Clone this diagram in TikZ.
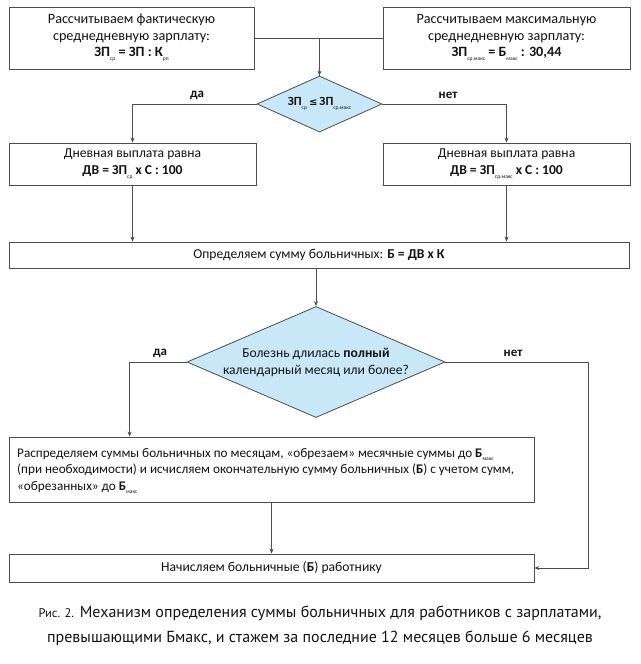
\documentclass[tikz,border=0pt]{standalone}
\usepackage{fontspec}
\setmainfont{Carlito}
\newfontfamily\capfont{PT Sans}
\newfontfamily\symfont{DejaVu Sans}
\usetikzlibrary{shapes.geometric,arrows.meta}
\newcommand\lo[1]{\raisebox{-0.6ex}{\fontsize{5.5}{6}\selectfont\mdseries #1}}
\definecolor{ln}{HTML}{4D4D4D}
\definecolor{dfill}{HTML}{C9E8F7}
\definecolor{tx}{HTML}{141414}
\begin{document}
\begin{tikzpicture}[x=1pt,y=-1pt,
  box/.style={draw=ln, line width=0.8pt, fill=white, rectangle, inner sep=0pt, text=tx, font=\fontsize{13.6}{16.5}\selectfont, align=center},
  dia/.style={draw=ln, line width=0.8pt, fill=dfill, diamond, inner sep=0pt},
  conn/.style={draw=ln, line width=0.8pt, -{Stealth[length=5pt,width=4pt]}},
  plainline/.style={draw=ln, line width=0.8pt},
  lbl/.style={font=\bfseries\fontsize{13}{15}\selectfont, text=tx, inner sep=0pt},
  dtext/.style={font=\fontsize{13.6}{17}\selectfont, text=tx, inner sep=0pt, align=center}]
\useasboundingbox (0,0) rectangle (640,664);

% top boxes
\node[box, font=\fontsize{14.2}{16.5}\selectfont, minimum width=245pt, minimum height=62pt] (b1) at (131.5,38)
  {Рассчитываем фактическую\\среднедневную зарплату:\\\textbf{ЗП\lo{ср} = ЗП : К\lo{рп}}};
\node[box, font=\fontsize{14.2}{16.5}\selectfont, minimum width=247pt, minimum height=62pt] (b2) at (506.5,38)
  {Рассчитываем максимальную\\среднедневную зарплату:\\\textbf{ЗП\lo{ср.макс} = Б\lo{макс} : 30,44}};

% diamond 1
\node[dia, minimum width=125pt, minimum height=56pt] (d1) at (319.5,104) {};
\node[lbl, font=\bfseries\fontsize{12.5}{15}\selectfont] (t1) at (d1.center) {ЗП\lo{ср}\,{\symfont\fontsize{10}{12}\selectfont ≤}\,ЗП\lo{ср.макс}};

% second row
\node[box, minimum width=247pt, minimum height=42pt] (b3) at (132.5,164)
  {Дневная выплата равна\\\textbf{ДВ = ЗП\lo{ср} х С : 100}};
\node[box, minimum width=247pt, minimum height=42pt] (b4) at (506.5,164)
  {Дневная выплата равна\\\textbf{ДВ = ЗП\lo{ср.макс} х С : 100}};

% wide box
\node[box, minimum width=620pt, minimum height=26pt] (b5) at (319,255)
  {Определяем сумму больничных: \textbf{Б = ДВ х К}};

% diamond 2
\node[dia, minimum width=258pt, minimum height=111pt] (d2) at (316,362) {};
\node[dtext] (t2) at (d2.center) {Болезнь длилась \textbf{полный}\\календарный месяц или более?};

% lower boxes
\node[box, minimum width=525pt, minimum height=65pt] (b6) at (271.5,469.5) {};
\node[dtext, font=\fontsize{13.2}{16.5}\selectfont, align=left, anchor=west] (t6) at (17,471)
  {Распределяем суммы больничных по месяцам, «обрезаем» месячные суммы до \textbf{Б\lo{макс}}\\(при необходимости) и исчисляем окончательную сумму больничных (\textbf{Б}) с учетом сумм,\\«обрезанных» до \textbf{Б\lo{макс}}};
\node[box, minimum width=525pt, minimum height=28pt] (b7) at (271.5,568)
  {Начисляем больничные (\textbf{Б}) работнику};

% connectors
\draw[conn] (b1.east) -| (d1.north);
\draw[plainline] (b2.west) -| (d1.north);
\draw[conn] (d1.west) -| (b3.north);
\draw[conn] (d1.east) -| (b4.north);
\draw[conn] (b3.south) -- (b3.south |- b5.north);
\draw[conn] (b4.south) -- (b4.south |- b5.north);
\draw[conn] (d2.north |- b5.south) -- (d2.north);
\draw[conn] (d2.west) -| ([xshift=121pt]b6.north west);
\draw[conn] (d2.east) -- ++(143,0) coordinate (r2) |- (b7.east);
\draw[conn] (b6.south) -- (b6.south |- b7.north);

% labels
\node[lbl] (l1) at (197,95) {да};
\node[lbl] (l2) at (448,95) {нет};
\node[lbl] (l3) at (160,353) {да};
\node[lbl] (l4) at (513,353) {нет};

% caption
\node[font=\capfont\fontsize{16}{25}\selectfont, text=tx, align=center, inner sep=0pt] (cap) at (320,626)
  {{\fontsize{12.5}{25}\selectfont Рис. 2.} Механизм определения суммы больничных для работников с зарплатами,\\превышающими Бмакс, и стажем за последние 12 месяцев больше 6 месяцев};
\end{tikzpicture}
\end{document}
